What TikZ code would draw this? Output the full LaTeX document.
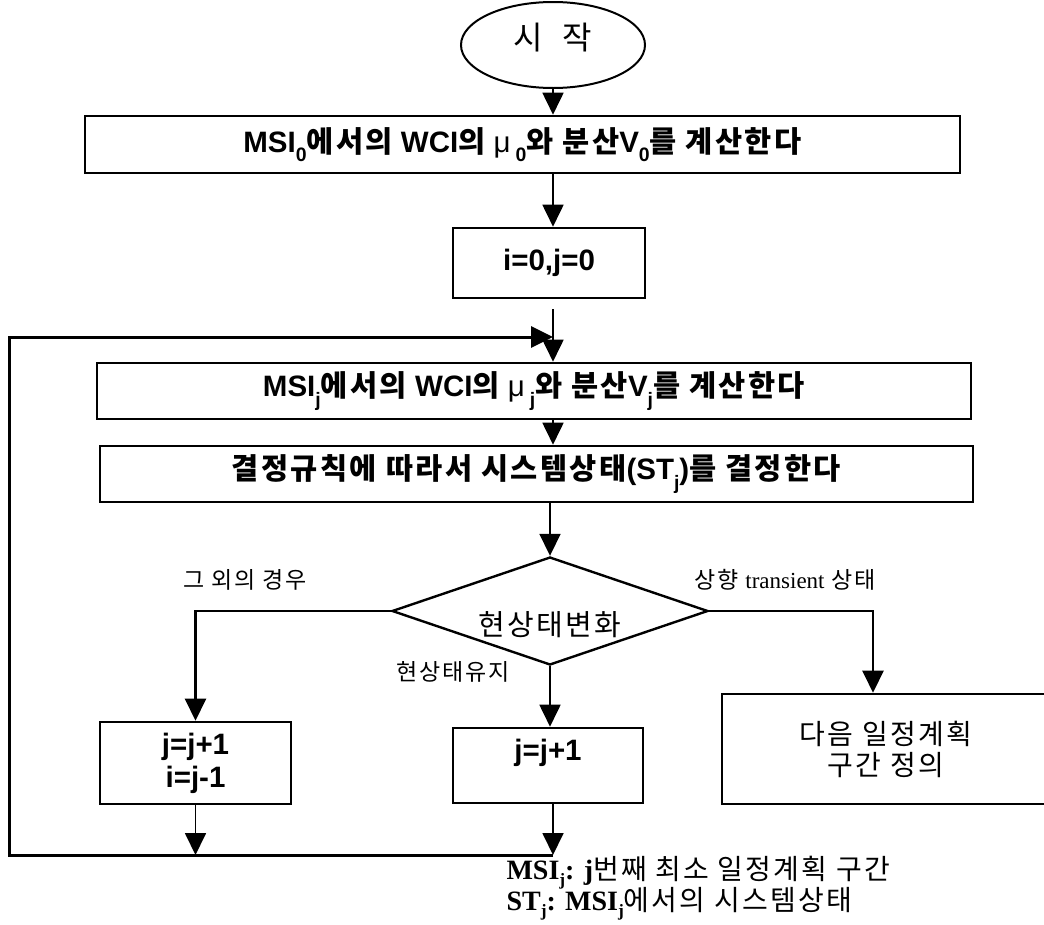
\documentclass[tikz,border=0pt]{standalone}
\usepackage{fontspec}
\usepackage{graphicx}
\setmainfont{Liberation Sans}
\newfontfamily\hgfont[LetterSpace=8]{Noto Sans CJK KR}
\newfontfamily\serfont{Liberation Serif}
\newcommand\hg[1]{{\hgfont #1}}
\newcommand\sub[1]{\raisebox{-0.32em}{\scalebox{0.66}{#1}}}
\newcommand\lsub[1]{\raisebox{-0.22em}{\scalebox{0.62}{#1}}}
\usetikzlibrary{arrows.meta,shapes.geometric}

\begin{document}
\begin{tikzpicture}[x=1pt,y=-1pt,
  tip/.style={-{Triangle[length=22pt,width=21pt]}},
  arr/.style={line width=1.8pt,tip},
  wire/.style={line width=2.4pt},
  stepbox/.style={draw,line width=2.6pt,inner sep=0pt},
  boxtext/.style={font=\fontsize{29.5}{33}\selectfont\bfseries},
  plaintext/.style={font=\fontsize{28}{31}\selectfont},
  lbl/.style={font=\fontsize{23}{26}\selectfont\hgfont},
  legend/.style={anchor=base west,font=\fontsize{28}{28}\selectfont}]
\useasboundingbox (0,0) rectangle (1044,924);

% start
\node[ellipse,draw,line width=2pt,minimum width=184pt,minimum height=86pt,inner sep=0pt] (start) at (553,45) {};
\node[font=\fontsize{32}{34}\selectfont] (starttxt) at ([yshift=7pt]start.center) {\hg{시\hspace{0.3em} 작}};

% process boxes
\node[stepbox,boxtext,minimum width=875pt,minimum height=57pt] (b1) at (522.5,144.5)
  {MSI\sub{0}\hg{에서의} WCI\hg{의} {\mdseries μ}\,\sub{0}\hg{와 분산}V\sub{0}\hg{를 계산한다}};
\node[stepbox,boxtext,minimum width=192pt,minimum height=70pt] (b2) at (549,263) {i=0,j=0};
\node[stepbox,boxtext,minimum width=874pt,minimum height=56pt] (b3) at (534,391)
  {MSI\sub{j}\hg{에서의} WCI\hg{의} {\mdseries μ}\,\sub{j}\hg{와 분산}V\sub{j}\hg{를 계산한다}};
\node[stepbox,boxtext,minimum width=873pt,minimum height=56pt] (b4) at (536.5,474)
  {\hg{결정규칙에 따라서 시스템상태}(ST\sub{j})\hg{를 결정한다}};

% decision
\node[diamond,draw,line width=2.4pt,minimum width=316pt,minimum height=108pt,inner sep=0pt,aspect=2.93] (dec) at (550,611) {};
\node[font=\fontsize{29}{32}\selectfont\hgfont] (dectxt) at ([yshift=-14pt]dec.center) {현상태변화};

% branch boxes
\node[stepbox,boxtext,align=center,minimum width=191pt,minimum height=82pt] (b5) at (195.5,763) {j=j+1\\i=j-1};
\node[stepbox,minimum width=190pt,minimum height=75pt] (b6) at (548,765.5) {};
\node[boxtext] (b6txt) at ([yshift=13pt]b6.center) {j=j+1};
\node[stepbox,plaintext,align=center,minimum width=328pt,minimum height=110pt] (b7) at (886,749)
  {\hg{다음 일정계획}\\\hg{구간 정의}};

% branch labels
\node[lbl] (lother) at (245,580) {그 외의 경우};
\node[lbl] (lup) at (785,580) {상향 {\serfont transient} 상태};
\node[lbl] (lkeep) at (453,672) {현상태유지};

% routing points
\coordinate (gap) at (553,309);
\coordinate (ret) at (553,855);
\coordinate (bl) at (9,855);
\coordinate (tl) at (9,337);
\coordinate (lp) at (553,337);
\coordinate (rx) at ([xshift=-13pt]b7.north);

% main flow
\draw[arr] (start.south) -- (start.south |- b1.north);
\draw[arr] (start.south |- b1.south) -- (start.south |- b2.north);
\draw[arr] (gap) -- (gap |- b3.north);
\draw[arr] (gap |- b3.south) -- (gap |- b4.north);
\draw[arr] (dec.north |- b4.south) -- (dec.north);

% branches
\draw[wire,tip] (dec.west) -- (dec.west -| b5.north) -- (b5.north);
\draw[arr] (dec.south) -- (dec.south |- b6.north);
\draw[wire,tip] (dec.east) -- (rx |- dec.east) -- (rx);

% back to the loop
\draw[arr] (b5.south) -- (b5.south |- ret);
\draw[arr] (ret |- b6.south) -- (ret);
\draw[wire,line width=3pt,tip] (ret) -- (bl) -- (tl) -- (lp);

% legend
\node[legend] (leg1) at (503,879) {{\serfont\bfseries MSI\lsub{j}: j}\hg{번째 최소 일정계획 구간}};
\node[legend] (leg2) at (503,910) {{\serfont\bfseries ST\lsub{j}: MSI\lsub{j}}\hg{에서의 시스템상태}};
\end{tikzpicture}
\end{document}
